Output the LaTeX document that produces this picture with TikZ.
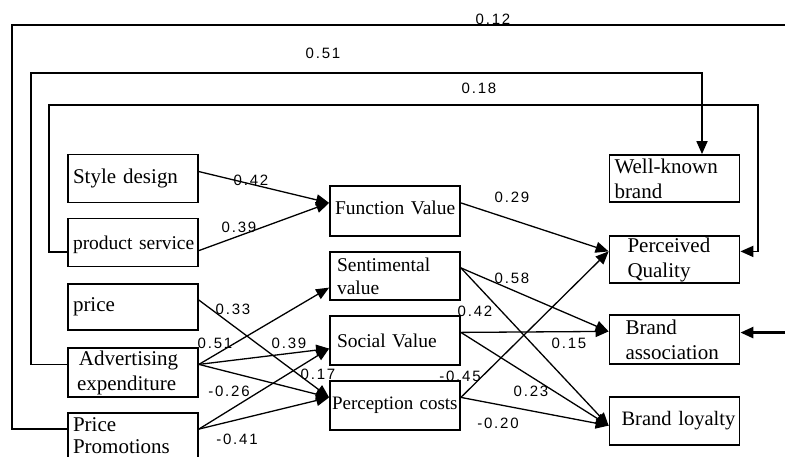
\documentclass[tikz,border=0pt]{standalone}
\usepackage{fontspec}
\setmainfont{Liberation Serif}
\newfontfamily\coeffont[LetterSpace=12]{Liberation Sans}
\usetikzlibrary{
    positioning,
    arrows.meta
}

\tikzset{
    box/.style={draw, line width=1.8pt, minimum width=130pt, minimum height=48pt,
        text width=126pt, inner xsep=2pt, inner ysep=0pt, align=left,
        font=\fontsize{21}{25}\selectfont},
    midbox/.style={box, font=\fontsize{19.5}{23}\selectfont},
    link/.style={-{Triangle[length=13pt, width=11pt]}, line width=1.3pt},
    fb/.style={link, line width=1.8pt},
    coef/.style={font=\coeffont\fontsize{15}{15}\selectfont, inner sep=0pt}
}

\begin{document}
\begin{tikzpicture}[x=1pt, y=-1pt]
      \useasboundingbox (0,0) rectangle (785,457);
      \clip (0,0) rectangle (785,457);

      % left column
      \node[box] (sd) at (133,178.5) {\hspace*{3pt}Style design};
      \node[midbox, text height=15pt, text depth=0pt] (ps) at (133,242.5) {\hspace*{3pt}product service};
      \node[box, minimum height=46pt] (pr) at (133,307) {\hspace*{3pt}price};
      \node[box, minimum height=49pt] (ae) at (133,372.5) {\hspace*{9pt}Advertising\\\hspace*{7pt}expenditure};
      \node[box, minimum height=46pt, font=\fontsize{21}{22}\selectfont] (pp) at (133,436) {\hspace*{3pt}Price\\\hspace*{3pt}Promotions};

      % middle column
      \node[midbox, minimum height=50pt, text depth=6pt] (fv) at (395,211) {\hspace*{3pt}Function Value};
      \node[midbox] (sv) at (395,276) {\hspace*{5pt}Sentimental\\\hspace*{5pt}value};
      \node[midbox, minimum height=49pt] (so) at (395,340.5) {\hspace*{5pt}Social Value};
      \node[midbox, minimum height=49pt, font=\fontsize{19}{23}\selectfont] (pc) at (395,405.5) {Perception costs};

      % right column
      \node[box, minimum height=47pt] (wb) at (674.5,178.5) {\hspace*{3pt}Well-known\\\hspace*{3pt}brand};
      \node[box, minimum height=47pt] (pq) at (674.5,259.5) {\hspace*{16pt}Perceived\\\hspace*{16pt}Quality};
      \node[box, minimum height=49pt] (ba) at (674.5,339.5) {\hspace*{14pt}Brand\\\hspace*{14pt}association};
      \node[box, font=\fontsize{20.5}{24}\selectfont] (bl) at (674.5,421) {\hspace*{10pt}Brand loyalty};

      \draw[link] (sd.6) -- (fv.173);
      \draw[link] (ps.-7) -- (fv.173);
      \draw[link] (pr.6) -- (pc.173);
      \draw[link] (ae.7) -- (sv.190);
      \draw[link] (ae.7) -- (so.187);
      \draw[link] (ae.7) -- (pc.173);
      \draw[link] (pp.6) -- (so.187);
      \draw[link] (pp.6) -- (pc.173);

      \draw[link] (fv.7) -- (pq.173);
      \draw[link] (pc.7) -- (pq.173);
      \draw[link] (sv.7) -- (ba.173);
      \draw[link] (sv.7) -- (bl.184);
      \draw[link] (so.7) -- (ba.173);
      \draw[link] (so.7) -- (bl.184);
      \draw[link] (pc.7) -- (bl.184);

      % feedback paths over the top
      \coordinate (t12a) at (12,25);
      \coordinate (t12b) at (792,25);
      \coordinate (t51a) at (31,73);
      \coordinate (t51b) at (702,73);
      \coordinate (t18a) at (49,105);
      \coordinate (t18b) at (758,105);
      \draw[fb, line width=2.6pt] (pp.174) -| (t12a) -- (t12b) |- (ba.6);
      \draw[fb] (ae.173) -| (t51a) -- (t51b) -- (t51b |- wb.north);
      \draw[fb] (ps.188) -| (t18a) -- (t18b) |- (pq.7);

      \node[coef] (k1) at (493,19) {0.12};
      \node[coef] (k2) at (323,53) {0.51};
      \node[coef] (k3) at (479,88) {0.18};
      \node[coef] (k4) at (251,180) {0.42};
      \node[coef] (k5) at (239,227) {0.39};
      \node[coef] (k6) at (233,309) {0.33};
      \node[coef] (k7) at (215,343) {0.51};
      \node[coef] (k8) at (289,343) {0.39};
      \node[coef] (k9) at (318,374) {0.17};
      \node[coef] (k10) at (229,391) {-0.26};
      \node[coef] (k11) at (237,439) {-0.41};
      \node[coef] (k12) at (512,197) {0.29};
      \node[coef] (k13) at (512,278) {0.58};
      \node[coef] (k14) at (475,311) {0.42};
      \node[coef] (k15) at (569,343) {0.15};
      \node[coef] (k16) at (460,376) {-0.45};
      \node[coef] (k17) at (531,391) {0.23};
      \node[coef] (k18) at (498,423) {-0.20};
\end{tikzpicture}
\end{document}
